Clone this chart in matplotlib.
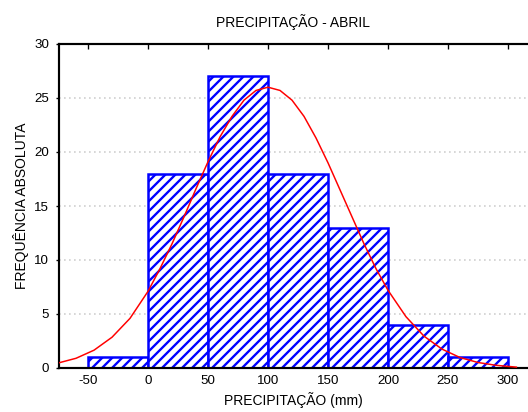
import matplotlib
matplotlib.use("Agg")
import matplotlib.pyplot as plt

# histogram classes (mm) and absolute frequencies
bin_left = [-50, 0, 50, 100, 150, 200, 250]
bin_width = 50
freq = [1, 18, 27, 18, 13, 4, 1]

# fitted normal curve
curve_x = [-75, -60, -45, -30, -15, 0, 10, 20, 30, 40, 50, 60, 70, 80, 90, 100,
           110, 120, 130, 140, 150, 160, 170, 180, 190, 200, 215, 230, 245, 260,
           275, 290, 307]
curve_y = [0.46, 0.9, 1.65, 2.85, 4.6, 7.1, 9.2, 11.5, 14.0, 16.6, 19.1, 21.4,
           23.3, 24.8, 25.7, 26.0, 25.7, 24.8, 23.3, 21.3, 19.0, 16.5, 14.0, 11.5,
           9.2, 7.2, 4.75, 2.95, 1.75, 0.97, 0.51, 0.25, 0.08]

xticks = [-50, 0, 50, 100, 150, 200, 250, 300]
yticks = [0, 5, 10, 15, 20, 25, 30]

plt.rcParams["font.family"] = ["Liberation Sans", "DejaVu Sans"]
plt.rcParams["hatch.linewidth"] = 1.4
plt.rcParams["axes.unicode_minus"] = False

DPI = 120
fig = plt.figure(figsize=(528 / DPI, 412 / DPI), dpi=DPI)
ax = fig.add_axes([59 / 528, 1 - 368 / 412, 1 - 59 / 528, (368 - 44) / 412])

for y in yticks[1:-1]:
    ax.axhline(y, color="#cfcfcf", lw=1.0, ls=(0, (1, 2)), zorder=0)

ax.bar(bin_left, freq, width=bin_width, align="edge", color="white",
       edgecolor="blue", hatch="////", linewidth=1.5, zorder=2)
ax.plot(curve_x, curve_y, color="red", lw=0.9, zorder=3)

ax.set_xlim(-74.2, 316.7)
ax.set_ylim(0, 30)
ax.set_xticks(xticks)
ax.set_yticks(yticks)
ax.tick_params(axis="x", bottom=False, top=True, direction="in", length=3,
               labelsize=8, pad=4)
ax.tick_params(axis="y", left=True, direction="out", length=2, labelsize=8, pad=4)
for s in ["left", "top", "bottom"]:
    ax.spines[s].set_linewidth(1.3)
ax.spines["right"].set_visible(False)

ax.set_title("PRECIPITAÇÃO - ABRIL", fontsize=8.3, pad=10)
ax.set_xlabel("PRECIPITAÇÃO (mm)", fontsize=8.3, labelpad=3)
ax.set_ylabel("FREQUÊNCIA ABSOLUTA", fontsize=8.3, labelpad=3)

fig.savefig("out.png", dpi=DPI)
